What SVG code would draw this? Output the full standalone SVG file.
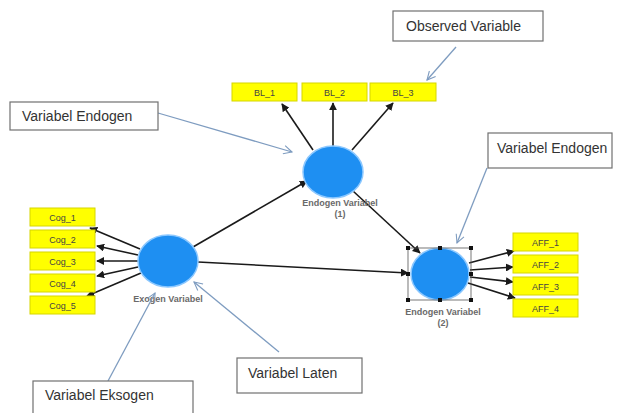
<svg xmlns="http://www.w3.org/2000/svg" width="625" height="413" viewBox="0 0 625 413">
<defs>
<marker id="ah" viewBox="0 0 10 10" refX="9" refY="5" markerWidth="5" markerHeight="5" orient="auto" markerUnits="strokeWidth">
<path d="M0,0 L10,5 L0,10 z" fill="#1a1a1a"/>
</marker>
<marker id="oh" viewBox="0 0 12 12" refX="11" refY="6" markerWidth="10" markerHeight="10" orient="auto" markerUnits="userSpaceOnUse">
<path d="M1,1 L11,6 L1,11" fill="none" stroke="#7e9cc0" stroke-width="1.3"/>
</marker>
</defs>
<style>
.ind rect{fill:#ffff00;stroke:#d6d600;stroke-width:1}
.ind text{font-family:"Liberation Sans",Arial,sans-serif;font-size:9px;fill:#444;text-anchor:middle}
.lat ellipse{fill:#1e8ff2;stroke:#8cc8ff;stroke-width:1.5}
.lbl{font-family:"Liberation Sans",Arial,sans-serif;font-size:9px;font-weight:bold;fill:#6a6a6a;text-anchor:middle}
.call rect{fill:#fff;stroke:#707070;stroke-width:1.2}
.call text{font-family:"Liberation Sans",Arial,sans-serif;font-size:14px;fill:#333}
.conn line{stroke:#1a1a1a;stroke-width:1.6;marker-end:url(#ah)}
.cl line{stroke:#7e9cc0;stroke-width:1.3;marker-end:url(#oh)}
.hd{fill:#111}
</style>
<rect width="625" height="413" fill="#fff"/>

<g id="connectors" class="conn">
<line x1="140" y1="249" x2="90" y2="228"/>
<line x1="138" y1="255" x2="97" y2="246"/>
<line x1="138" y1="261" x2="97" y2="261"/>
<line x1="138" y1="267" x2="97" y2="276"/>
<line x1="141" y1="273" x2="87" y2="296"/>
<line x1="313" y1="150" x2="282" y2="104"/>
<line x1="333" y1="146" x2="333" y2="103"/>
<line x1="352" y1="150" x2="393" y2="103"/>
<line x1="193" y1="247" x2="307" y2="181"/>
<line x1="353" y1="191" x2="420" y2="253"/>
<line x1="198" y1="262" x2="408" y2="273"/>
<line x1="469" y1="263" x2="514" y2="251"/>
<line x1="470" y1="270" x2="513" y2="267"/>
<line x1="470" y1="277" x2="513" y2="282"/>
<line x1="468" y1="283" x2="515" y2="298"/>
</g>

<g id="Cog_1" class="ind"><rect x="30" y="208" width="65" height="18"/><text x="62.5" y="220.5">Cog_1</text></g>
<g id="Cog_2" class="ind"><rect x="30" y="230" width="65" height="18"/><text x="62.5" y="242.5">Cog_2</text></g>
<g id="Cog_3" class="ind"><rect x="30" y="252" width="65" height="18"/><text x="62.5" y="264.5">Cog_3</text></g>
<g id="Cog_4" class="ind"><rect x="30" y="274" width="65" height="18"/><text x="62.5" y="286.5">Cog_4</text></g>
<g id="Cog_5" class="ind"><rect x="30" y="296" width="65" height="18"/><text x="62.5" y="308.5">Cog_5</text></g>

<g id="BL_1" class="ind"><rect x="232" y="83" width="65" height="18"/><text x="264.5" y="95.5">BL_1</text></g>
<g id="BL_2" class="ind"><rect x="302" y="83" width="65" height="18"/><text x="334.5" y="95.5">BL_2</text></g>
<g id="BL_3" class="ind"><rect x="370" y="83" width="66" height="18"/><text x="403" y="95.5">BL_3</text></g>

<g id="AFF_1" class="ind"><rect x="513" y="233" width="65" height="18"/><text x="545.5" y="245.5">AFF_1</text></g>
<g id="AFF_2" class="ind"><rect x="513" y="255" width="65" height="18"/><text x="545.5" y="267.5">AFF_2</text></g>
<g id="AFF_3" class="ind"><rect x="513" y="277" width="65" height="18"/><text x="545.5" y="289.5">AFF_3</text></g>
<g id="AFF_4" class="ind"><rect x="513" y="299" width="65" height="18"/><text x="545.5" y="311.5">AFF_4</text></g>

<g id="exogen" class="lat">
<ellipse cx="168" cy="261" rx="30" ry="26"/>
<text class="lbl" x="168" y="302">Exogen Variabel</text>
</g>
<g id="endogen1" class="lat">
<ellipse cx="333" cy="172" rx="30" ry="26"/>
<text class="lbl" x="340" y="206">Endogen Variabel</text>
<text class="lbl" x="340" y="217">(1)</text>
</g>
<g id="endogen2" class="lat">
<ellipse cx="440" cy="274" rx="29" ry="26"/>
<rect x="408" y="248" width="63" height="52" fill="none" stroke="#555" stroke-width="0.8"/>
<rect class="hd" x="406" y="246" width="4" height="4"/>
<rect class="hd" x="438" y="246" width="4" height="4"/>
<rect class="hd" x="469" y="246" width="4" height="4"/>
<rect class="hd" x="406" y="272" width="4" height="4"/>
<rect class="hd" x="469" y="272" width="4" height="4"/>
<rect class="hd" x="406" y="298" width="4" height="4"/>
<rect class="hd" x="438" y="298" width="4" height="4"/>
<rect class="hd" x="469" y="298" width="4" height="4"/>
<text class="lbl" x="443" y="315">Endogen Variabel</text>
<text class="lbl" x="443" y="326">(2)</text>
</g>

<g id="callout-lines" class="cl">
<line x1="456" y1="47" x2="427" y2="80"/>
<line x1="158" y1="113" x2="292" y2="152"/>
<line x1="487" y1="168" x2="457" y2="243"/>
<line x1="108" y1="381" x2="155" y2="293"/>
<line x1="279" y1="352" x2="194" y2="282"/>
</g>

<g id="observed" class="call"><rect x="393" y="11" width="150" height="30"/><text x="406" y="31">Observed Variable</text></g>
<g id="endogen-left" class="call"><rect x="10" y="102" width="148" height="28"/><text x="22" y="121">Variabel Endogen</text></g>
<g id="endogen-right" class="call"><rect x="488" y="133" width="124" height="35"/><text x="497" y="153">Variabel Endogen</text></g>
<g id="eksogen" class="call"><rect x="33" y="381" width="160" height="40"/><text x="45" y="400">Variabel Eksogen</text></g>
<g id="laten" class="call"><rect x="237" y="358" width="125" height="35"/><text x="248" y="378">Variabel Laten</text></g>
</svg>
